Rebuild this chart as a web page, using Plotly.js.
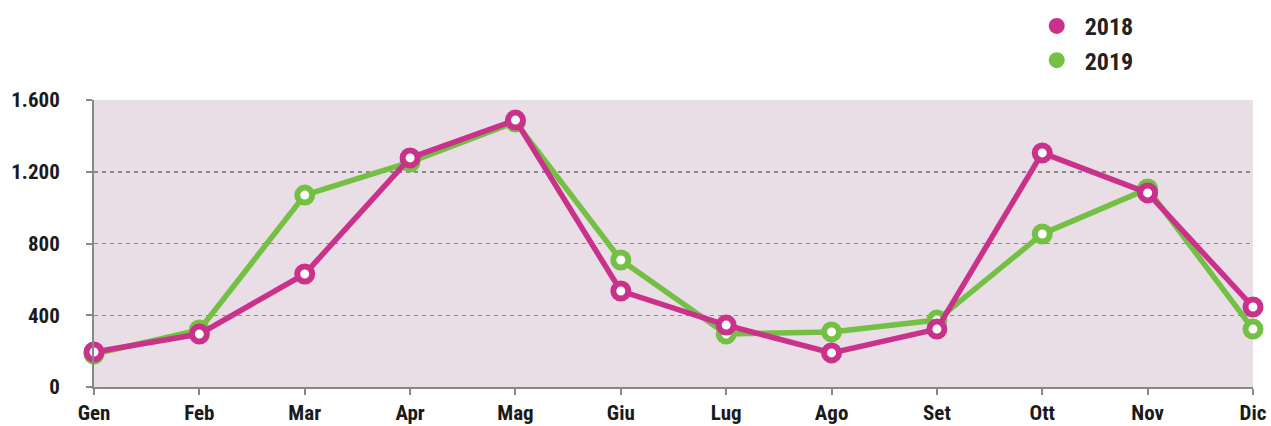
<!DOCTYPE html>
<html><head><meta charset="utf-8">
<script src="https://cdn.plot.ly/plotly-3.0.1.min.js"></script>
<style>html,body{margin:0;padding:0;background:#fff}</style>
</head><body>
<div id="chart" style="width:1271px;height:426px"></div>
<script>
const months = ["Gen","Feb","Mar","Apr","Mag","Giu","Lug","Ago","Set","Ott","Nov","Dic"];
const values2018 = [195, 295, 630, 1277, 1488, 535, 345, 190, 323, 1305, 1082, 446];
const values2019 = [184, 318, 1070, 1254, 1477, 708, 295, 307, 373, 853, 1104, 323];
const yTicks = [0, 400, 800, 1200, 1600];
const yTickLabels = ["0", "400", "800", "1.200", "1.600"];

const PINK = "#C9318A", GREEN = "#74C044";
const FONT = "'Liberation Sans Narrow', 'Roboto Condensed', 'DejaVu Sans Condensed', sans-serif";

function series(name, y, color) {
  return {x: months, y: y, name: name, type: "scatter", mode: "lines+markers",
    line: {color: color, width: 5.5}, showlegend: false, cliponaxis: false,
    marker: {symbol: "circle", size: 15, color: "#fff", line: {color: color, width: 6}}};
}
function legendItem(name, color) {
  return {x: [null], y: [null], name: name, type: "scatter", mode: "markers",
    marker: {symbol: "circle", size: 25, color: color}, showlegend: true};
}
const data = [
  series("2019", values2019, GREEN),
  series("2018", values2018, PINK),
  legendItem("2018", PINK),
  legendItem("2019", GREEN)
];
const layout = {
  width: 1271, height: 426,
  margin: {l: 94, r: 18, t: 100, b: 39, autoexpand: false},
  paper_bgcolor: "#fff", plot_bgcolor: "#E9DEE6",
  font: {family: FONT, size: 21, color: "#1a1a1a", weight: "bold"},
  showlegend: true,
  legend: {x: 0.8065, y: 1.335, xanchor: "left", yanchor: "top", bgcolor: "rgba(0,0,0,0)",
    font: {family: FONT, size: 24, color: "#222", weight: "bold"}, itemwidth: 46, tracegroupgap: 0},
  xaxis: {type: "category", range: [0, 11], showgrid: false, zeroline: false,
    showline: true, linecolor: "#888", linewidth: 2, ticks: "outside", ticklen: 6,
    tickcolor: "#888", tickwidth: 2, tickfont: {family: FONT, size: 21, weight: "bold", color: "#1a1a1a"}},
  yaxis: {range: [0, 1600], tickvals: yTicks, ticktext: yTickLabels, showgrid: true,
    gridcolor: "#8a8a8a", griddash: "4px,4px", gridwidth: 1.5, zeroline: false,
    showline: true, linecolor: "#888", linewidth: 2, ticks: "outside", ticklen: 6,
    tickcolor: "#888", tickwidth: 2, ticklabelstandoff: 22,
    tickfont: {family: FONT, size: 21, weight: "bold", color: "#1a1a1a"}}
};
Plotly.newPlot("chart", data, layout, {displayModeBar: false, staticPlot: true});
</script>
</body></html>
